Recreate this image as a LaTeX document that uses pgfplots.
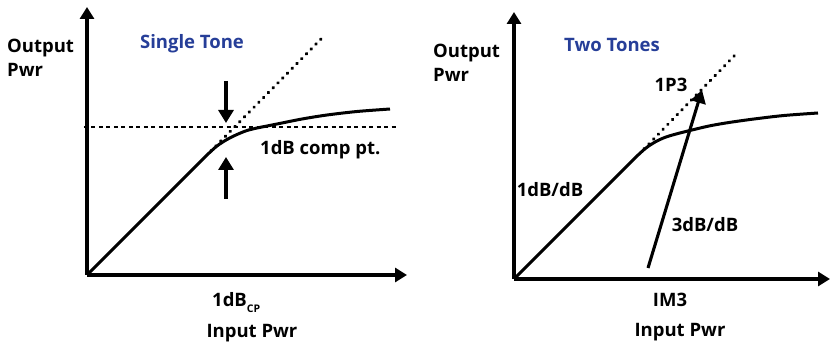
\documentclass[border=0pt]{standalone}
\usepackage{fontspec}
\setmainfont{Open Sans}
\usepackage{pgfplots}
\pgfplotsset{compat=1.18}
\usetikzlibrary{arrows.meta}

\definecolor{toneblue}{RGB}{38,62,152}

\tikzset{lab/.style={font=\fontsize{18.5}{24}\selectfont\bfseries, inner sep=0pt}}
\pgfplotsset{
  panel/.style={
    scale only axis, x=1pt, y=1pt,
    xmin=0, ymin=0,
    axis lines=left, ticks=none, clip=false,
    axis line style={line width=3.6pt, -{Triangle[length=12pt,width=14pt]}},
  },
  resp/.style={black, line width=3pt, smooth, no marks},
  dots/.style={black, line width=3.2pt, line cap=round, dash pattern=on 0.6pt off 6.2pt, no marks},
  pointer/.style={black, line width=3.1pt, no marks, -{Triangle[length=13pt,width=15pt]}},
}

\begin{document}
\begin{tikzpicture}
\useasboundingbox (0,0) rectangle (831pt,-344pt);

% single tone
\begin{axis}[panel, at={(87pt,-275pt)}, anchor=south west, xmax=320, ymax=268]
  \addplot[black, line width=1.8pt, dash pattern=on 4pt off 3.5pt, no marks]
    coordinates {(-3,148) (311,148)};
  \addplot[dots] coordinates {(124,124) (238,240)};
  \addplot[resp] coordinates {(0,0) (110,110) (120,120) (130,129) (140,135.5) (150,140.5)
    (160,144.5) (170,147) (180,149) (195,152) (215,156) (240,160) (270,163.5) (303,166)};
  \addplot[pointer] coordinates {(139,194) (139,152)};
  \addplot[pointer] coordinates {(139,76) (139,118)};
  \node[lab, anchor=base west] at (axis cs:-80,222) {Output};
  \node[lab, anchor=base west] at (axis cs:-80,198) {Pwr};
  \node[lab, anchor=base, text=toneblue] at (axis cs:105,226) {Single Tone};
  \node[lab, anchor=base west] at (axis cs:173,120) {1dB comp pt.};
  \node[lab, anchor=base west] at (axis cs:125,-32) {1dB\raisebox{-6pt}{\fontsize{10.5}{11}\selectfont CP}};
  \node[lab, anchor=base] at (axis cs:165,-63) {Input Pwr};
\end{axis}

% two tones
\begin{axis}[panel, at={(514pt,-279pt)}, anchor=south west, xmax=316, ymax=267]
  \addplot[dots] coordinates {(130,130) (223,226)};
  \addplot[resp] coordinates {(0,0) (110,110) (122,122) (132,131) (142,137.5) (152,142)
    (164,145.5) (176,148.5) (195,153) (215,156.5) (240,160) (270,163.5) (304,166)};
  \addplot[pointer] coordinates {(134,11) (188,189)};
  \node[lab, anchor=base west] at (axis cs:-81,221) {Output};
  \node[lab, anchor=base west] at (axis cs:-81,197) {Pwr};
  \node[lab, anchor=base, text=toneblue] at (axis cs:98,227) {Two Tones};
  \node[lab, anchor=base] at (axis cs:157,187) {1P3};
  \node[lab, anchor=base] at (axis cs:36,82) {1dB/dB};
  \node[lab, anchor=base] at (axis cs:191,47) {3dB/dB};
  \node[lab, anchor=base] at (axis cs:156,-28) {IM3};
  \node[lab, anchor=base] at (axis cs:166,-58) {Input Pwr};
\end{axis}
\end{tikzpicture}
\end{document}
